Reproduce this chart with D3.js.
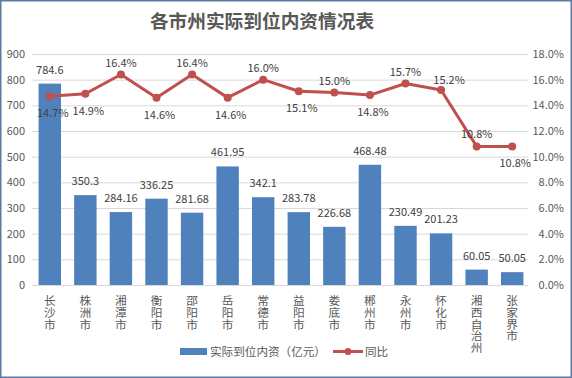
<!DOCTYPE html>
<html><head><meta charset="utf-8">
<script src="https://cdn.jsdelivr.net/npm/d3@7"></script>
<style>
html,body{margin:0;padding:0;background:#fff;}
svg{display:block;font-family:"Noto Sans CJK SC","Noto Sans",sans-serif;}
</style></head>
<body>
<svg id="chart" width="572" height="378"></svg>
<script>
const categories = ["长沙市","株洲市","湘潭市","衡阳市","邵阳市","岳阳市","常德市","益阳市","娄底市","郴州市","永州市","怀化市","湘西自治州","张家界市"];
const investment = [784.6,350.3,284.16,336.25,281.68,461.95,342.1,283.78,226.68,468.48,230.49,201.23,60.05,50.05];
const growth = [14.7,14.9,16.4,14.6,16.4,14.6,16.0,15.1,15.0,14.8,15.7,15.2,10.8,10.8];
const leftTicks = [0,100,200,300,400,500,600,700,800,900];
const rightTicks = [0,2,4,6,8,10,12,14,16,18];
const title = "各市州实际到位内资情况表";
const seriesNames = ["实际到位内资（亿元）","同比"];
// label placement for the line labels (style only)
const lineLabelPlace = ["below","below","above","below","above","below","above","below","above","below","above","aboveR","above","below"];

const svg = d3.select("#chart");
const W = 572, H = 378;
const barColor = "#4f81bd", lineColor = "#c0504d", textColor = "#595959", labelColor = "#404040";

svg.append("rect").attr("x",0.75).attr("y",0.75).attr("width",W-1.5).attr("height",H-1.5)
  .attr("fill","#fff").attr("stroke","#5b7aa6").attr("stroke-width",1.5);

const x = d3.scaleBand().domain(categories).range([32,530]).paddingInner(0.37).paddingOuter(0.185);
const yL = d3.scaleLinear().domain([0,900]).range([285,54]);
const yR = d3.scaleLinear().domain([0,18]).range([285,54]);

// title
svg.append("text").attr("x",262).attr("y",28).attr("text-anchor","middle")
  .attr("font-size",18.7).attr("font-weight","bold").attr("fill",textColor).text(title);

// gridlines
svg.append("g").selectAll("line").data(leftTicks).join("line")
  .attr("x1",32).attr("x2",528).attr("y1",d=>yL(d)+0.5).attr("y2",d=>yL(d)+0.5)
  .attr("stroke","#d9d9d9").attr("stroke-width",1);

// left axis
const axL = d3.axisLeft(yL).tickValues(leftTicks).tickSize(0).tickPadding(0);
const gL = svg.append("g").attr("transform","translate(25,0)").call(axL);
gL.select(".domain").remove();
gL.selectAll("text").attr("font-size",11).attr("fill",textColor).attr("font-family","'Noto Sans CJK SC',sans-serif");

// right axis
const axR = d3.axisRight(yR).tickValues(rightTicks).tickSize(0).tickPadding(0).tickFormat(d=>d.toFixed(1)+"%");
const gR = svg.append("g").attr("transform","translate(564,0)").call(axR);
gR.select(".domain").remove();
gR.selectAll("text").attr("font-size",11).attr("fill",textColor).attr("text-anchor","end").attr("font-family","'Noto Sans CJK SC',sans-serif");

// bars
svg.append("g").selectAll("rect").data(investment).join("rect")
  .attr("x",(d,i)=>x(categories[i])).attr("width",x.bandwidth())
  .attr("y",d=>yL(d)).attr("height",d=>yL(0)-yL(d)).attr("fill",barColor);

// x axis line
svg.append("line").attr("x1",32).attr("x2",528).attr("y1",285.5).attr("y2",285.5).attr("stroke","#d9d9d9");

// bar labels
svg.append("g").selectAll("text").data(investment).join("text")
  .attr("x",(d,i)=>x(categories[i])+x.bandwidth()/2).attr("y",d=>yL(d)-10)
  .attr("text-anchor","middle").attr("font-size",11).attr("fill",labelColor).text(d=>d);

// category labels (vertical writing)
const cx = (i)=>x(categories[i])+x.bandwidth()/2;
svg.append("g").selectAll("text").data(categories).join("text")
  .attr("x",(d,i)=>cx(i)).attr("y",295)
  .style("writing-mode","vertical-rl").style("text-orientation","upright")
  .attr("text-anchor","start").attr("font-size",11.7).attr("fill",textColor)
  .text(d=>d);

// line
const line = d3.line().x((d,i)=>cx(i)).y(d=>yR(d));
svg.append("path").datum(growth).attr("d",line).attr("fill","none")
  .attr("stroke",lineColor).attr("stroke-width",3).attr("stroke-linejoin","round");
svg.append("g").selectAll("circle").data(growth).join("circle")
  .attr("cx",(d,i)=>cx(i)).attr("cy",d=>yR(d)).attr("r",4).attr("fill",lineColor);

// line labels
const place = {above:[0,-12], below:[3,17], aboveR:[8,-10]};
svg.append("g").selectAll("text").data(growth).join("text")
  .attr("x",(d,i)=>cx(i)+place[lineLabelPlace[i]][0])
  .attr("y",(d,i)=>yR(d)+place[lineLabelPlace[i]][1]+4)
  .attr("text-anchor","middle").attr("font-size",11).attr("fill",labelColor)
  .text(d=>d.toFixed(1)+"%");

// legend
const lg = svg.append("g");
lg.append("rect").attr("x",180).attr("y",348).attr("width",27).attr("height",7).attr("fill",barColor);
lg.append("text").attr("x",210).attr("y",356).attr("font-size",11.6).attr("fill",textColor).text(seriesNames[0]);
lg.append("line").attr("x1",333).attr("x2",363).attr("y1",351.5).attr("y2",351.5).attr("stroke",lineColor).attr("stroke-width",3);
lg.append("circle").attr("cx",348).attr("cy",351.5).attr("r",3.5).attr("fill",lineColor);
lg.append("text").attr("x",365).attr("y",356).attr("font-size",11.6).attr("fill",textColor).text(seriesNames[1]);
</script>
</body></html>
